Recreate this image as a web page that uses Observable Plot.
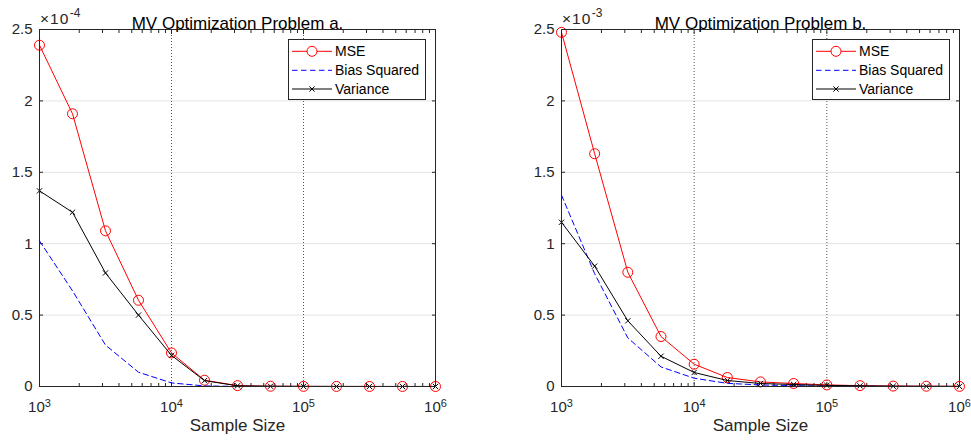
<!DOCTYPE html>
<html>
<head>
<meta charset="utf-8">
<script src="https://cdn.jsdelivr.net/npm/d3@7"></script>
<script src="https://cdn.jsdelivr.net/npm/@observablehq/plot@0.6"></script>
<style>
  html, body { margin: 0; padding: 0; background: #fff; }
  #wrap { position: relative; width: 971px; height: 444px; overflow: hidden; background: #fff; }
  .panel { position: absolute; top: 0; }
</style>
</head>
<body>
<div id="wrap"></div>
<script>
// ---- data ----
const sampleSizes = [1000, 1778, 3162, 5623, 10000, 17783, 31623, 56234, 100000, 177828, 316228, 562341, 1000000];

// Problem a (values in units of 1e-4)
const mseA  = [2.39, 1.91, 1.09, 0.604, 0.235, 0.044, 0.006, 0.002, 0.001, 0.0005, 0.0003, 0.0002, 0.0001];
const biasA = [1.02, 0.67, 0.29, 0.10, 0.025, 0.004, 0.0008, 0.0003, 0.0001, 0.00005, 0.00003, 0.00002, 0.00001];
const varA  = [1.37, 1.22, 0.795, 0.50, 0.218, 0.041, 0.005, 0.0017, 0.0009, 0.00045, 0.00027, 0.00018, 0.00009];

// Problem b (values in units of 1e-3)
const mseB  = [2.48, 1.63, 0.80, 0.35, 0.156, 0.063, 0.032, 0.021, 0.011, 0.006, 0.003, 0.002, 0.001];
const biasB = [1.34, 0.79, 0.34, 0.137, 0.058, 0.022, 0.011, 0.006, 0.003, 0.0015, 0.0008, 0.0004, 0.0002];
const varB  = [1.15, 0.843, 0.46, 0.212, 0.098, 0.042, 0.021, 0.014, 0.008, 0.0045, 0.0022, 0.0016, 0.0008];

const titles = ["MV Optimization Problem a.", "MV Optimization Problem b."];
const exponents = ["-4", "-3"];
const seriesNames = ["MSE", "Bias Squared", "Variance"];
const xLabel = "Sample Size";
const xMajorTicks = [1e3, 1e4, 1e5, 1e6];
const yTicks = [0, 0.5, 1, 1.5, 2, 2.5];
const xMinorTicks = [];
for (const p of [1e3, 1e4, 1e5]) for (let m = 2; m <= 9; m++) xMinorTicks.push(m * p);

const FONT = '"Liberation Sans", Arial, Helvetica, sans-serif';
const AX = "#262626";
const RED = "#ff0000", BLUE = "#0000ff", BLACK = "#000000";

const after = [];

function panel({title, exp, mse, bias, vari, width, marginLeft, marginRight, left}) {
  const rows = sampleSizes.map((n, i) => ({n, mse: mse[i], bias: bias[i], vari: vari[i]}));
  const marginTop = 29, marginBottom = 58, height = 444;
  const svg = Plot.plot({
    width, height, marginLeft, marginRight, marginTop, marginBottom,
    style: {fontFamily: FONT, fontSize: "15px", color: AX, background: "transparent", overflow: "visible"},
    x: {type: "log", domain: [1e3, 1e6]},
    y: {domain: [0, 2.5]},
    marks: [
      Plot.ruleY(yTicks.filter(d => d > 0 && d < 2.5), {stroke: "#e3e3e3", strokeWidth: 1}),
      Plot.ruleX([1e4, 1e5], {stroke: "#444", strokeWidth: 0.9, strokeDasharray: "1,2"}),
      // labels
      Plot.axisX({anchor: "bottom", ticks: xMajorTicks, tickSize: 0, tickPadding: 15,
        tickFormat: d => String(Math.round(Math.log10(d))), label: null}),
      Plot.axisY({anchor: "left", ticks: yTicks, tickSize: 0, tickPadding: 7,
        tickFormat: d => String(d), label: null}),
      // inward ticks
      Plot.axisX({anchor: "bottom", ticks: xMajorTicks, tickSize: -4, tickFormat: () => "", label: null}),
      Plot.axisX({anchor: "top", ticks: xMajorTicks, tickSize: -4, tickFormat: () => "", label: null}),
      Plot.axisX({anchor: "bottom", ticks: xMinorTicks, tickSize: -3, tickFormat: () => "", label: null}),
      Plot.axisX({anchor: "top", ticks: xMinorTicks, tickSize: -3, tickFormat: () => "", label: null}),
      Plot.axisY({anchor: "left", ticks: yTicks, tickSize: -4, tickFormat: () => "", label: null}),
      Plot.axisY({anchor: "right", ticks: yTicks, tickSize: -4, tickFormat: () => "", label: null}),
      // series
      Plot.line(rows, {x: "n", y: "mse", stroke: RED, strokeWidth: 1}),
      Plot.dot(rows, {x: "n", y: "mse", r: 5, stroke: RED, fill: "none", strokeWidth: 1}),
      Plot.line(rows, {x: "n", y: "bias", stroke: BLUE, strokeWidth: 1, strokeDasharray: "5.5,3.5"}),
      Plot.line(rows, {x: "n", y: "vari", stroke: BLACK, strokeWidth: 1}),
      Plot.dot(rows, {x: "n", y: "vari", r: 2.5, symbol: "times", stroke: BLACK, strokeWidth: 1}),
      Plot.frame({stroke: AX, strokeWidth: 1}),
      Plot.text([title], {frameAnchor: "top", dy: -13, fontSize: 17, fill: "#000"}),
      Plot.text([xLabel], {frameAnchor: "bottom", dy: 44, fontSize: 17, fill: AX})
    ]
  });

  const s = d3.select(svg);
  // superscript x tick labels: 10^k
  s.selectAll('g[aria-label="x-axis tick label"] text').each(function() {
    const t = d3.select(this);
    const k = t.text();
    if (!k) return;
    t.text("");
    t.append("tspan").text("10");
    t.append("tspan").attr("dy", "-0.45em").attr("font-size", "11").text(k);
  });

  const frameLeft = marginLeft, frameRight = width - marginRight, frameTop = marginTop;

  // exponent multiplier label: ×10 with superscript exponent
  const eg = s.append("g").attr("font-family", FONT).attr("fill", AX).attr("text-anchor", "start");
  const base = eg.append("text").attr("x", frameLeft + 1).attr("y", 24).attr("font-size", 15.5)
    .attr("letter-spacing", 1).text("\u00d710");
  const sup = eg.append("text").attr("y", 17).attr("font-size", 12).text(exp);
  after.push(() => {
    const bb = base.node().getBBox();
    sup.attr("x", bb.x + bb.width + 0.5);
  });

  // legend
  const lw = 137, lh = 60;
  const lx = frameRight - 10 - lw, ly = frameTop + 10;
  const g = s.append("g").attr("font-family", FONT).attr("font-size", 14).attr("fill", "#000")
    .attr("text-anchor", "start");
  g.append("rect").attr("x", lx + 0.5).attr("y", ly + 0.5).attr("width", lw).attr("height", lh)
    .attr("fill", "#fff").attr("stroke", AX).attr("stroke-width", 1);
  const rowsY = [12.3, 31.3, 50];
  const styles = [
    {stroke: RED, dash: null, marker: "circle"},
    {stroke: BLUE, dash: "5.5,3.5", marker: null},
    {stroke: BLACK, dash: null, marker: "times"}
  ];
  seriesNames.forEach((name, i) => {
    const y = ly + rowsY[i];
    const st = styles[i];
    g.append("line").attr("x1", lx + 4).attr("x2", lx + 44).attr("y1", y).attr("y2", y)
      .attr("stroke", st.stroke).attr("stroke-width", 1).attr("stroke-dasharray", st.dash);
    if (st.marker === "circle") {
      g.append("circle").attr("cx", lx + 24).attr("cy", y).attr("r", 5)
        .attr("fill", "#fff").attr("stroke", st.stroke);
    } else if (st.marker === "times") {
      g.append("path").attr("transform", `translate(${lx + 24},${y})`)
        .attr("d", d3.symbol(d3.symbolTimes, Math.PI * 2.5 * 2.5)())
        .attr("stroke", st.stroke).attr("fill", "none");
    }
    g.append("text").attr("x", lx + 47).attr("y", y).attr("dy", "0.35em").text(name);
  });

  const div = document.createElement("div");
  div.className = "panel";
  div.style.left = left + "px";
  div.appendChild(svg);
  return div;
}

const wrap = document.getElementById("wrap");
wrap.appendChild(panel({title: titles[0], exp: exponents[0], mse: mseA, bias: biasA, vari: varA,
  width: 490, marginLeft: 39, marginRight: 55, left: 0}));
wrap.appendChild(panel({title: titles[1], exp: exponents[1], mse: mseB, bias: biasB, vari: varB,
  width: 481, marginLeft: 71, marginRight: 12, left: 490}));
after.forEach(f => f());
</script>
</body>
</html>
